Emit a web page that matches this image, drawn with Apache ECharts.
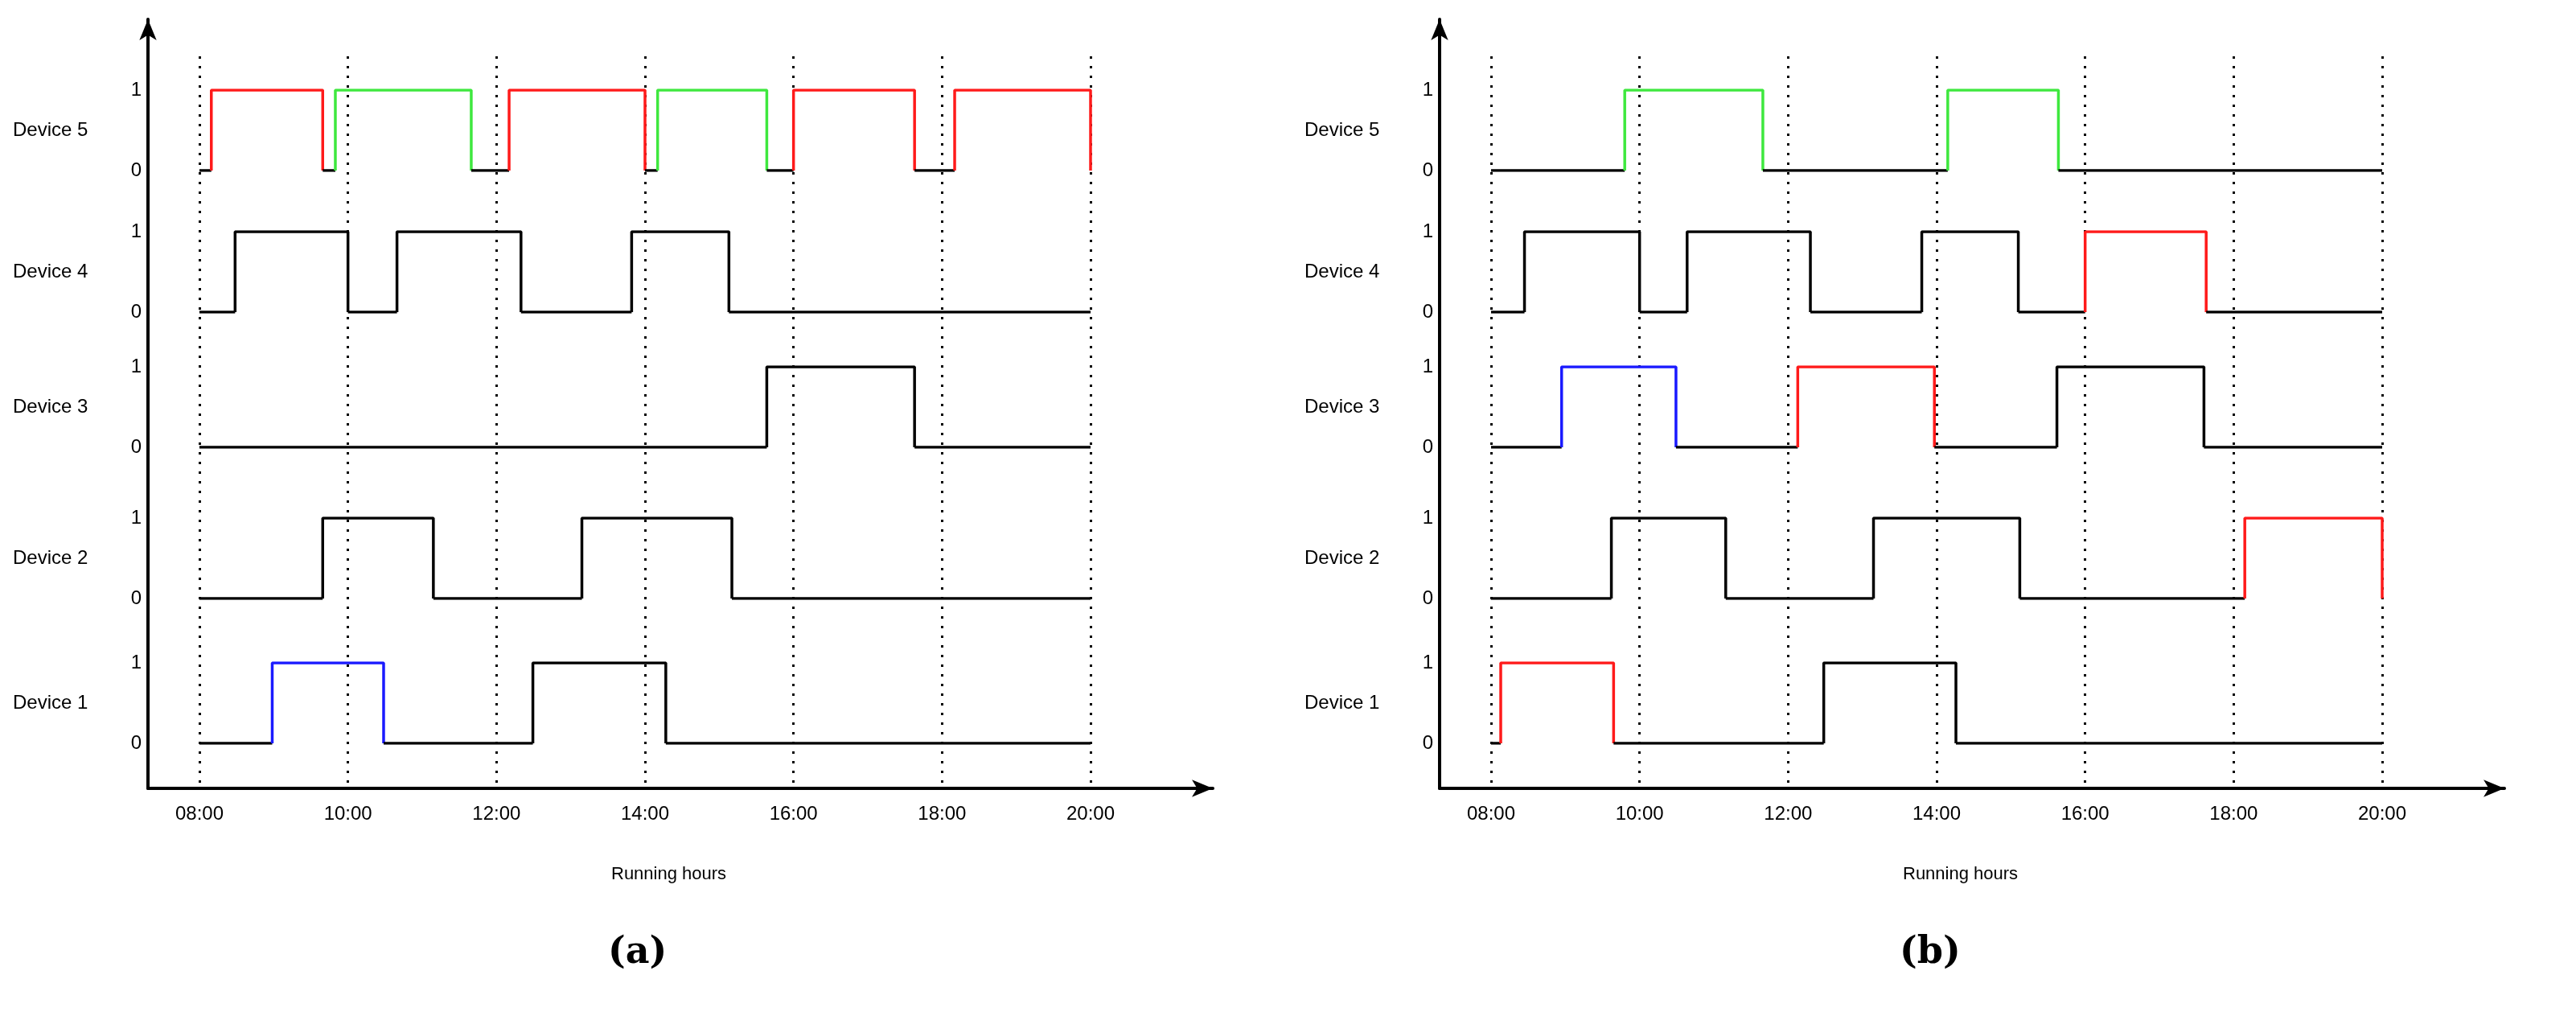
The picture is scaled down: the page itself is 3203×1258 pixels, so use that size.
<!DOCTYPE html>
<html><head><meta charset="utf-8">
<script src="https://cdn.jsdelivr.net/npm/echarts@6/dist/echarts.min.js"></script>
<style>html,body{margin:0;padding:0;background:#fff}#c{width:3203px;height:1258px}</style>
</head><body><div id="c"></div>
<script>
const hourLabels = ['08:00','10:00','12:00','14:00','16:00','18:00','20:00'];
const devices = ['Device 5','Device 4','Device 3','Device 2','Device 1'];
const stateTicks = ['0','1'];
const panelNames = ['(a)','(b)'];
// "on" intervals: [start hour, end hour, kind] ; kind 0=normal,1=red,2=green,3=blue
const a5 = [[8.16,9.66,1],[9.83,11.66,2],[12.17,14.0,1],[14.17,15.64,2],[16.0,17.63,1],[18.17,20.0,1]];
const a4 = [[8.48,10.0,0],[10.66,12.33,0],[13.82,15.13,0]];
const a3 = [[15.64,17.63,0]];
const a2 = [[9.66,11.15,0],[13.15,15.17,0]];
const a1 = [[8.98,10.48,3],[12.49,14.28,0]];
const b5 = [[9.8,11.66,2],[14.15,15.64,2]];
const b4 = [[8.45,10.0,0],[10.64,12.3,0],[13.8,15.1,0],[16.0,17.63,1]];
const b3 = [[8.95,10.49,3],[12.13,13.97,1],[15.62,17.6,0]];
const b2 = [[9.62,11.16,0],[13.15,15.12,0],[18.15,20.0,1]];
const b1 = [[8.13,9.65,1],[12.48,14.26,0]];
const spanStart = 8, spanEnd = 20;

const kindColor = ['#000000','#ff1a1a','#3ee83e','#1a1aff'];
const panels = [[a5,a4,a3,a2,a1],[b5,b4,b3,b2,b1]];
const rowTop = [112,288,456,644,824];
const rowH = 100;
const font = 'Liberation Sans, Arial, sans-serif';
const grids=[], xAxes=[], yAxes=[], series=[], graphic=[];
panels.forEach((rows,p)=>{
  const dx = p*1606;
  // outer frame with arrows
  const gOuter = grids.length;
  grids.push({left:184+dx, top:24, width:1324, height:956});
  xAxes.push({gridIndex:gOuter,type:'value',min:0,max:1,axisLine:{show:true,lineStyle:{color:'#000',width:4},symbol:['none','arrow'],symbolSize:[16,26]},axisTick:{show:false},axisLabel:{show:false},splitLine:{show:false}});
  yAxes.push({gridIndex:gOuter,type:'value',min:0,max:1,axisLine:{show:true,lineStyle:{color:'#000',width:4},symbol:['none','arrow'],symbolSize:[16,26]},axisTick:{show:false},axisLabel:{show:false},splitLine:{show:false}});
  // dotted time grid + labels
  const gT = grids.length;
  grids.push({left:248+dx, top:70, width:1108, height:910});
  xAxes.push({gridIndex:gT,type:'value',min:8,max:20,interval:2,axisLine:{show:false},axisTick:{show:false},
    axisLabel:{margin:20,fontSize:24,fontFamily:font,color:'#000',formatter:v=>hourLabels[(v-8)/2]},
    splitLine:{show:true,lineStyle:{type:[3,9],color:'#000',width:3}}});
  yAxes.push({gridIndex:gT,type:'value',min:0,max:1,show:false,splitLine:{show:false}});
  rows.forEach((ivs,r)=>{
    const g = grids.length;
    grids.push({left:248+dx, top:rowTop[r], width:1108, height:rowH});
    xAxes.push({gridIndex:g,type:'value',min:8,max:20,show:false,splitLine:{show:false}});
    yAxes.push({gridIndex:g,type:'value',min:0,max:1,interval:1,axisLine:{show:false},axisTick:{show:false},splitLine:{show:false},
      axisLabel:{margin:72,fontSize:24,fontFamily:font,color:'#000',formatter:v=>stateTicks[v]},
      name:devices[r],nameLocation:'middle',nameRotate:0,nameGap:128,nameTextStyle:{fontSize:24,fontFamily:font,color:'#000',align:'left',padding:[0,0,0,-232+128]}});
    let prev = spanStart;
    const seg=(data,kind)=>series.push({type:'line',xAxisIndex:g,yAxisIndex:g,data,symbol:'none',silent:true,animation:false,lineStyle:{color:kindColor[kind],width:3.5}});
    ivs.forEach(([s,e,k])=>{
      if(s>prev) seg([[prev,0],[s,0]],0);
      seg([[s,0],[s,1],[e,1],[e,0]],k);
      prev=e;
    });
    if(prev<spanEnd) seg([[prev,0],[spanEnd,0]],0);
  });
  graphic.push({type:'text',left:760+dx,top:1076,style:{text:'Running hours',font:'22px '+font,fill:'#000'}});
  graphic.push({type:'text',left:756+dx,top:1162,style:{text:panelNames[p],font:'bold 46px "DejaVu Serif", serif',fill:'#000'}});
});
const chart = echarts.init(document.getElementById('c'));
chart.setOption({animation:false,grid:grids,xAxis:xAxes,yAxis:yAxes,series,graphic});
</script></body></html>
